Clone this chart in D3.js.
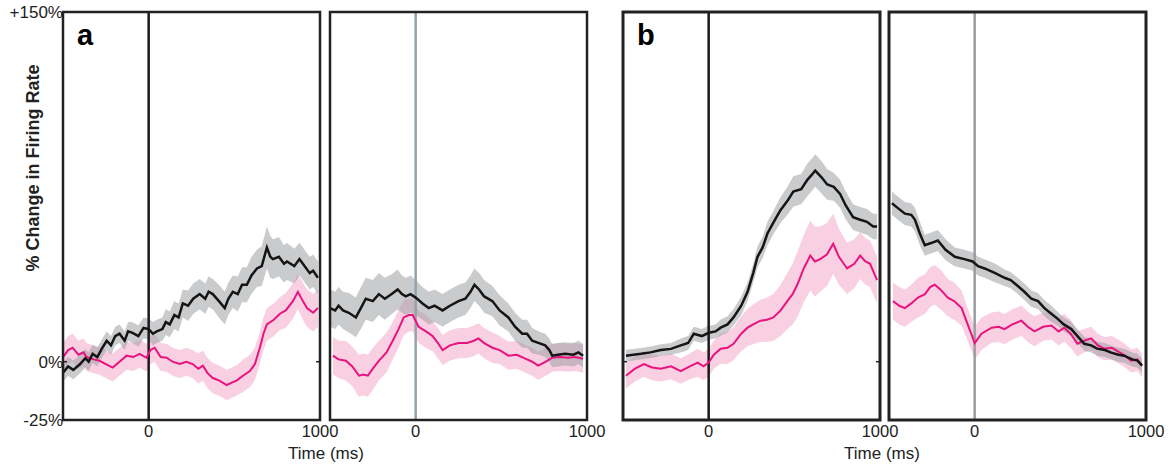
<!DOCTYPE html>
<html>
<head>
<meta charset="utf-8">
<script src="https://cdn.jsdelivr.net/npm/d3@7"></script>
<style>
  body { margin: 0; background: #fff; }
  svg { display: block; font-family: "Liberation Sans", Arial, sans-serif; }
</style>
</head>
<body>
<svg id="chart" width="1169" height="464"></svg>
<script>
// each point: [time ms, % change, sem]
var aLeftBlack = [[-500,-4.7,4],[-470,-2,4],[-440,-3.5,4],[-400,-1,4],[-370,1.5,4],[-350,0,4],[-327,3.4,4],[-300,2,4],[-270,6,4],[-245,9,4],[-220,7,4],[-195,11,4],[-170,12,4],[-140,9,4],[-120,13,4],[-94,12.4,4.5],[-60,11,4.5],[-30,14.5,4.5],[0,14,4.5],[25,12,5],[47,13,5],[80,14,5],[100,17,5.5],[123,16,5.5],[150,20,6],[175,19,6],[199,25,6],[230,24,6.5],[260,27,6.5],[298,29,6.5],[330,27,6.5],[350,30,6.5],[374,29,6.5],[410,26,7],[444,23,7],[465,27,7],[491,30,7],[520,29,7.5],[545,33,7.5],[573,33,7.5],[600,37,8],[632,40,8],[660,41,8.5],[690,49,9],[710,45,9],[725,44,8.5],[760,45,8.5],[790,42,8],[807,43,8],[850,41,7.5],[880,44,7],[900,42,7],[940,38,7],[960,39,7],[988,36,7]];
var aLeftPink = [[-500,2,6],[-470,5,6],[-444,6,6],[-410,3,6],[-380,4,6],[-363,2,6],[-320,1,6],[-287,0.4,6],[-250,-1,6],[-210,-2.5,6],[-170,0,6],[-129,2.6,6],[-90,2,6],[-53,3.4,6],[-12,1.7,6],[10,5,6],[35,6,6],[70,2,6],[105,1.7,6],[140,0,6],[181,-1,6],[220,0,6],[257,-1,6],[290,-3,6.5],[316,-1.7,6.5],[345,-5,6.5],[374,-7,6.5],[410,-8,6.5],[456,-10,6.5],[485,-9,6.5],[515,-8,6.5],[550,-6,7],[591,-4,7],[620,-1,7],[649,6,7],[670,12,7],[690,16,7],[730,18,7],[766,20.6,7],[800,22,7.5],[842,26,7.5],[871,30,7.5],[900,26,8],[924,23,8],[960,21,8],[988,23,8]];
var aRightBlack = [[-500,23,8],[-470,22,8],[-450,24,8],[-424,22,8],[-390,21,8.5],[-349,19,8.5],[-320,23,9],[-291,27,9],[-250,26,9],[-215,29,9],[-180,27,9],[-140,29,8.5],[-105,31,8.5],[-80,29,8],[-58,28,8],[-30,29,8],[0,27.5,7.5],[40,25,7],[76,23,7],[110,24,7],[157,22,7],[200,24,7],[250,26,7],[290,27,7],[320,30,7],[343,33,7],[370,31,7],[400,28,7],[448,26,6.5],[490,22,6.5],[541,19,6],[580,15,6],[622,12,6],[650,12,6],[680,9,5.5],[720,8,5],[756,7,5],[780,5,5],[797,2.6,5],[830,3,5],[872,3.4,5],[920,3,5],[950,4,5],[977,2.6,5]];
var aRightPink = [[-483,2.6,8],[-450,1,8],[-407,0.4,8.5],[-370,-2,8.5],[-331,-6,9],[-305,-5.5,9],[-279,-6,9],[-250,-3,9],[-215,0.4,8.5],[-170,4,8.5],[-134,9,8],[-100,14,8],[-70,19,7.5],[-40,20,7],[-17,20,7],[17,15,7],[60,13,7],[99,11,6.5],[130,8,6.5],[157,5,6.5],[200,7,6.5],[250,8,6.5],[300,8,6.5],[340,9,6.5],[366,10,6.5],[400,8,6.5],[448,6,6.5],[490,5,6],[541,2.6,6],[590,3,6],[640,1.3,6],[680,0,6],[715,-1.7,6],[760,0,6],[797,1.7,6],[840,2,6],[890,1.7,6],[930,2,6],[977,1.3,6]];
var bLeftBlack = [[-483,2.6,2.5],[-440,3,2.5],[-395,3.4,2.5],[-340,4,2.5],[-279,5,2.5],[-220,5.5,2.5],[-163,7,3],[-120,8,3],[-87,12,3],[-40,11,3],[0,12.4,3],[40,13,3],[70,14.6,3.5],[110,16,3.5],[145,19,3.5],[190,24,4],[227,30,4],[260,38,4],[285,45,4.5],[315,49,4.5],[343,55,5],[380,60,5],[419,65,5.5],[460,69,6],[494,73,6.5],[540,74,6.5],[576,78,7],[600,80,7],[622,82,7],[660,79,7],[692,76,6.5],[730,75,6],[767,72,6],[800,67,6],[843,62,5.5],[880,61,5.5],[924,60,5.5],[960,58,5.5],[983,58,5.5]];
var bLeftPink = [[-483,-6,5.5],[-430,-3,5.5],[-378,-1,5.5],[-330,-2.5,5.5],[-279,-3,5.5],[-220,-2,5.5],[-163,-4,5.5],[-110,-2,5.5],[-64,-0.4,6],[-30,-2,6],[0,-0.4,6],[30,3,6],[70,5.6,6.5],[110,6,7],[145,7.7,7],[190,12,7.5],[227,14.6,8],[260,16,8.5],[302,17.6,9],[340,18,9.5],[378,19,10],[420,22,11],[459,26,12],[490,29,13],[517,33,14],[555,40,14.5],[593,45.5,15],[620,43,15],[651,44,14],[690,46,13.5],[727,50.6,13],[760,45,12],[808,40,11],[850,42,10.5],[884,45.5,10],[915,43,10],[942,42,10],[983,35,10]];
var bRightBlack = [[-483,68,5],[-450,66,5],[-407,63.5,5],[-370,63,5],[-349,61,5],[-320,55,5],[-291,50,4.5],[-250,51,4.5],[-215,52,4.5],[-170,48,4.5],[-116,45,4],[-60,44,4],[-12,43,4],[20,41,4],[58,40,4],[120,38,4],[174,36,3.5],[210,35,3.5],[250,32.6,3.5],[290,30,3.5],[331,27,3.5],[370,26,3.5],[407,23,3.5],[440,21,3.5],[483,18.5,3],[520,16,3],[564,14,3],[600,11,3],[640,7.7,3],[680,7,3],[715,5.6,3],[760,5,3],[797,3.9,3],[840,3,3],[872,2.6,3],[920,1,3],[950,0.5,3],[977,-1.7,3]];
var bRightPink = [[-477,26,8],[-440,24,8],[-407,23,8],[-370,25,8],[-331,27.5,8.5],[-290,29,8.5],[-260,32,8.5],[-233,33,8.5],[-200,31,8.5],[-157,27.5,8],[-120,26,8],[-76,23,7.5],[-41,16,7],[-20,12,7],[0,8,7],[40,12,7],[99,14.6,6.5],[140,15,6.5],[174,14,6.5],[220,16,6.5],[273,17.6,6.5],[310,15,6.5],[349,13,6.5],[400,15,6],[448,15.5,6],[490,13,6],[523,14.6,6],[560,12,6],[599,7.7,5.5],[640,9,5],[680,10,5],[720,7,5],[756,5.6,5],[800,6,5],[831,4.7,5],[870,3,5],[913,0.4,5],[950,1,5],[977,-1.7,5]];

var timeDomain = [-500, 1000];
var yDomain = [-25, 150];
var yTicks = [150, 0, -25];
var yTickLabels = ["+150%", "0%", "-25%"];
var xTicks = [0, 1000];

var svg = d3.select("#chart");
var y = d3.scaleLinear().domain(yDomain).range([420, 12]);

var panels = [
  {x0: 63, x1: 320, black: aLeftBlack, pink: aLeftPink, mark: "#1a1a1a", frame: 2.5, ticks: true},
  {x0: 330, x1: 587, black: aRightBlack, pink: aRightPink, mark: "#93a3ab", frame: 2.5, ticks: false},
  {x0: 623, x1: 880, black: bLeftBlack, pink: bLeftPink, mark: "#1a1a1a", frame: 3, ticks: true},
  {x0: 889, x1: 1146, black: bRightBlack, pink: bRightPink, mark: "#9a9c9f", frame: 3, ticks: false}
];

panels.forEach(function(p){
  var x = d3.scaleLinear().domain(timeDomain).range([p.x0, p.x1]);
  var g = svg.append("g");

  var band = d3.area()
    .x(function(d){ return x(d[0]); })
    .y0(function(d){ return y(d[1] - d[2]); })
    .y1(function(d){ return y(d[1] + d[2]); });
  var line = d3.line()
    .x(function(d){ return x(d[0]); })
    .y(function(d){ return y(d[1]); });

  g.append("path").datum(p.pink).attr("d", band)
    .attr("fill", "#f3a9cb").attr("fill-opacity", 0.55);
  g.append("path").datum(p.black).attr("d", band)
    .attr("fill", "#9fa1a4").attr("fill-opacity", 0.55);

  // event marker at time 0
  g.append("line")
    .attr("x1", x(0)).attr("x2", x(0))
    .attr("y1", y(yDomain[0])).attr("y2", y(yDomain[1]))
    .attr("stroke", p.mark).attr("stroke-width", 2.5);

  g.append("path").datum(p.pink).attr("d", line)
    .attr("fill", "none").attr("stroke", "#e8137f").attr("stroke-width", 2);
  g.append("path").datum(p.black).attr("d", line)
    .attr("fill", "none").attr("stroke", "#151515").attr("stroke-width", 2.5);

  g.append("rect")
    .attr("x", p.x0).attr("y", y(yDomain[1]))
    .attr("width", p.x1 - p.x0).attr("height", y(yDomain[0]) - y(yDomain[1]))
    .attr("fill", "none").attr("stroke", "#222").attr("stroke-width", p.frame);

  if(p.ticks){
    g.append("line").attr("x1", p.x0).attr("x2", p.x0 + 4)
      .attr("y1", y(0)).attr("y2", y(0)).attr("stroke", "#222").attr("stroke-width", 1.5);
    g.append("line").attr("x1", p.x1 - 4).attr("x2", p.x1)
      .attr("y1", y(0)).attr("y2", y(0)).attr("stroke", "#222").attr("stroke-width", 1.5);
  }

  g.selectAll(".xt").data(xTicks).enter().append("text")
    .attr("x", function(d){ return x(d); })
    .attr("y", 437)
    .attr("text-anchor", "middle")
    .attr("font-size", 16.5)
    .attr("fill", "#222")
    .text(function(d){ return d; });
});

// y tick labels
svg.selectAll(".yt").data(yTicks).enter().append("text")
  .attr("x", 63)
  .attr("y", function(d){ return y(d) + 6; })
  .attr("text-anchor", "end")
  .attr("font-size", 17)
  .attr("fill", "#222")
  .text(function(d, i){ return yTickLabels[i]; });

svg.append("text")
  .attr("transform", "translate(39,168) rotate(-90)")
  .attr("text-anchor", "middle")
  .attr("font-size", 18)
  .attr("font-weight", "bold")
  .attr("fill", "#222")
  .text("% Change in Firing Rate");

[326, 882].forEach(function(cx){
  svg.append("text")
    .attr("x", cx).attr("y", 459)
    .attr("text-anchor", "middle")
    .attr("font-size", 17)
    .attr("fill", "#222")
    .text("Time (ms)");
});

svg.append("text").attr("x", 77).attr("y", 45)
  .attr("font-size", 29).attr("font-weight", "bold").text("a");
svg.append("text").attr("x", 637).attr("y", 45)
  .attr("font-size", 29).attr("font-weight", "bold").text("b");
</script>
</body>
</html>
